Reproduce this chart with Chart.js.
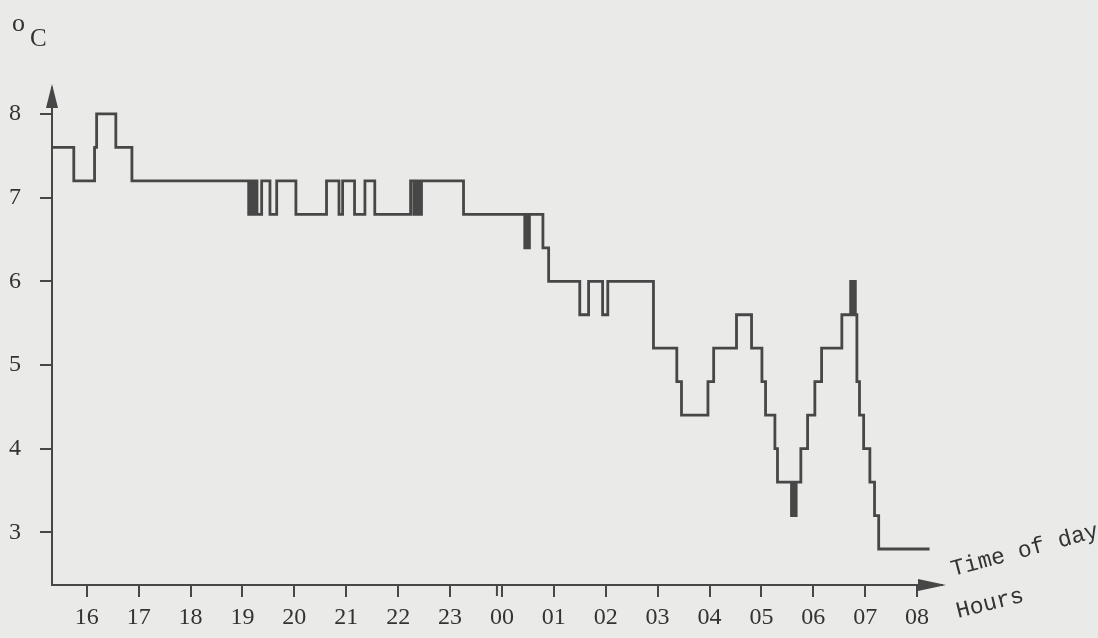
<!DOCTYPE html>
<html>
<head>
<meta charset="utf-8">
<script src="https://cdn.jsdelivr.net/npm/chart.js@4"></script>
<style>
  html, body { margin: 0; padding: 0; background: #eaeae8; }
  canvas { display: block; }
</style>
</head>
<body>
<canvas id="tempChart" width="1098" height="638"></canvas>
<script>
// time of day in decimal hours (00 = 24, 08 = 32), value changes at each time
const times = [15.33, 15.75, 16.15, 16.19, 16.56, 16.87,
  19.12, 19.15, 19.18, 19.21, 19.24, 19.26, 19.28, 19.37, 19.53, 19.66, 20.03, 20.62, 20.86, 20.93, 21.16, 21.36, 21.55, 22.24, 22.30, 22.34, 22.37, 22.40, 22.43, 22.45, 23.26,
  24.44, 24.47, 24.50, 24.53, 24.79, 24.90, 25.50, 25.67, 25.94, 26.04, 26.92,
  27.37, 27.46, 27.97, 28.08, 28.52, 28.81, 29.01, 29.08, 29.26, 29.31,
  29.58, 29.61, 29.64, 29.67, 29.76, 29.89, 30.03, 30.16, 30.55,
  30.72, 30.75, 30.78, 30.81, 30.84, 30.89, 30.97, 31.09, 31.18, 31.26, 32.24];
// temperature in °C
const temps = [7.6, 7.2, 7.6, 8.0, 7.6, 7.2,
  6.8, 7.2, 6.8, 7.2, 6.8, 7.2, 6.8, 7.2, 6.8, 7.2, 6.8, 7.2, 6.8, 7.2, 6.8, 7.2, 6.8, 7.2, 6.8, 7.2, 6.8, 7.2, 6.8, 7.2, 6.8,
  6.4, 6.8, 6.4, 6.8, 6.4, 6.0, 5.6, 6.0, 5.6, 6.0, 5.2,
  4.8, 4.4, 4.8, 5.2, 5.6, 5.2, 4.8, 4.4, 4.0, 3.6,
  3.2, 3.6, 3.2, 3.6, 4.0, 4.4, 4.8, 5.2, 5.6,
  6.0, 5.6, 6.0, 5.6, 4.8, 4.4, 4.0, 3.6, 3.2, 2.8, 2.8];

const hourTicks = [16, 17, 18, 19, 20, 21, 22, 23, 24, 25, 26, 27, 28, 29, 30, 31, 32];
const hourLabels = ['16', '17', '18', '19', '20', '21', '22', '23', '00', '01', '02', '03', '04', '05', '06', '07', '08'];
const tempTicks = [3, 4, 5, 6, 7, 8];

const ink = '#474747';
const serif = '"Liberation Serif", "DejaVu Serif", serif';

// arrows, unit and axis captions
const decorations = {
  id: 'decorations',
  afterDraw(chart) {
    const ctx = chart.ctx;
    const a = chart.chartArea;
    ctx.save();
    ctx.fillStyle = ink;
    // y arrow
    ctx.beginPath();
    ctx.moveTo(a.left, a.top - 4);
    ctx.lineTo(a.left - 6, a.top + 20);
    ctx.lineTo(a.left + 6, a.top + 20);
    ctx.closePath();
    ctx.fill();
    // x arrow
    ctx.beginPath();
    ctx.moveTo(a.right + 4, a.bottom);
    ctx.lineTo(a.right - 24, a.bottom - 6);
    ctx.lineTo(a.right - 24, a.bottom + 6);
    ctx.closePath();
    ctx.fill();
    // double tick at 00
    const x0 = chart.scales.x.getPixelForValue(24);
    ctx.strokeStyle = ink;
    ctx.lineWidth = 2;
    ctx.beginPath();
    ctx.moveTo(x0 - 5, a.bottom);
    ctx.lineTo(x0 - 5, a.bottom + 11);
    ctx.stroke();

    // unit
    ctx.fillStyle = '#333';
    ctx.font = '26px ' + serif;
    ctx.textBaseline = 'alphabetic';
    ctx.fillText('o', 12, 31);
    ctx.font = '25px ' + serif;
    ctx.fillText('C', 30, 46);

    // captions
    ctx.font = '23px "Liberation Mono", "DejaVu Sans Mono", monospace';
    ctx.translate(953, 576);
    ctx.rotate(-15 * Math.PI / 180);
    ctx.fillText('Time of day', 0, 0);
    ctx.setTransform(1, 0, 0, 1, 0, 0);
    ctx.translate(958, 618);
    ctx.rotate(-14 * Math.PI / 180);
    ctx.fillText('Hours', 0, 0);
    ctx.restore();
  }
};

new Chart(document.getElementById('tempChart'), {
  type: 'line',
  data: {
    datasets: [{
      data: times.map((t, i) => ({ x: t, y: temps[i] })),
      stepped: 'before',
      borderColor: ink,
      borderWidth: 2.8,
      pointRadius: 0,
      fill: false,
      clip: false
    }]
  },
  options: {
    responsive: false,
    animation: false,
    devicePixelRatio: 1,
    layout: { padding: { top: 88, right: 156, left: 0, bottom: 0 } },
    plugins: { legend: { display: false }, tooltip: { enabled: false } },
    scales: {
      x: {
        type: 'linear',
        min: 15.33,
        max: 32.48,
        afterFit: s => { s.height = 53; },
        afterBuildTicks: s => { s.ticks = hourTicks.map(v => ({ value: v })); },
        border: { display: true, color: ink, width: 2 },
        grid: { drawOnChartArea: false, drawTicks: true, tickLength: 12, color: ink, lineWidth: 2 },
        ticks: {
          autoSkip: false,
          maxRotation: 0,
          padding: 6,
          color: '#333',
          font: { family: serif, size: 24 },
          callback: v => hourLabels[hourTicks.indexOf(v)]
        }
      },
      y: {
        min: 2.37,
        max: 8.31,
        afterFit: s => { s.width = 52; },
        afterBuildTicks: s => { s.ticks = tempTicks.map(v => ({ value: v })); },
        border: { display: true, color: ink, width: 2 },
        grid: { drawOnChartArea: false, drawTicks: true, tickLength: 12, color: ink, lineWidth: 2 },
        ticks: {
          padding: 19,
          color: '#333',
          font: { family: serif, size: 24 },
          callback: v => String(v)
        }
      }
    }
  },
  plugins: [decorations]
});
</script>
</body>
</html>
